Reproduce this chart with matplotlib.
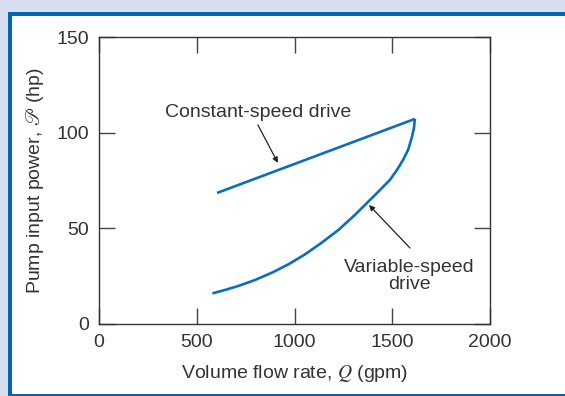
import numpy as np
import matplotlib
matplotlib.use('Agg')
import matplotlib.pyplot as plt
from matplotlib.patches import Rectangle

# values
const_q = [604, 1616]                 # gpm
const_p = [68.5, 107.2]               # hp
var_q = [580, 645, 713, 798, 884, 969, 1054, 1139, 1224, 1309, 1377, 1432,
         1488, 1524, 1555, 1581, 1601, 1611, 1616]
var_p = [16.0, 17.8, 19.9, 23.0, 26.8, 31.2, 36.4, 42.5, 49.1, 57.0, 63.9, 69.5,
         75.3, 80.5, 85.7, 91.0, 97.8, 102.5, 107.2]
x_ticks = [0, 500, 1000, 1500, 2000]
y_ticks = [0, 50, 100, 150]

plt.rcParams['font.family'] = ['Liberation Sans', 'DejaVu Sans']
plt.rcParams['mathtext.fontset'] = 'stix'

W, H = 565, 396
fig = plt.figure(figsize=(W / 100, H / 100), dpi=100)
fig.patch.set_facecolor('#d6deef')

# blue framed white panel
fig.patches.append(Rectangle((8 / W, 0), 1, 1 - 12 / H, transform=fig.transFigure,
                             facecolor='#0066b3', edgecolor='none', zorder=-2))
fig.patches.append(Rectangle((12 / W, 2 / H), 1, 1 - 18 / H, transform=fig.transFigure,
                             facecolor='white', edgecolor='none', zorder=-1))

ax = fig.add_axes([99 / W, 1 - 324 / H, (490 - 99) / W, (324 - 37) / H])
blue = '#0a6ebd'
ax.plot(const_q, const_p, color=blue, lw=1.9, solid_capstyle='butt')
ax.plot(var_q, var_p, color=blue, lw=1.9, solid_capstyle='butt', solid_joinstyle='round')

ax.set_xlim(0, 2000)
ax.set_ylim(0, 150)
ax.set_xticks(x_ticks)
ax.set_yticks(y_ticks)
txt = '#333333'
fs = 14
ax.tick_params(direction='in', length=11.5, width=1, color='#444444',
               top=True, right=True, labelsize=fs, labelcolor=txt, pad=7)
for s in ax.spines.values():
    s.set_color('#333333')
    s.set_linewidth(1)

ax.set_xlabel(r'Volume flow rate, $\mathit{Q}$ (gpm)', fontsize=fs, color=txt, labelpad=9)
ax.set_ylabel(r'Pump input power, $\mathscr{P}$ (hp)', fontsize=fs, color=txt, labelpad=8)

arrow = dict(arrowstyle='-|>', color='#222222', lw=0.9, mutation_scale=8,
             shrinkA=0, shrinkB=0)
ax.text(813, 110.8, 'Constant-speed drive', ha='center', va='center',
        fontsize=fs, color=txt)
ax.annotate('', xy=(915, 84.2), xytext=(813, 104), arrowprops=arrow)
ax.text(1588, 25, 'Variable-speed\ndrive', ha='center', va='center',
        fontsize=fs, color=txt, linespacing=1.05)
ax.annotate('', xy=(1381, 62.2), xytext=(1591, 39.7), arrowprops=arrow)

fig.savefig('out.png', dpi=100, facecolor=fig.get_facecolor())
